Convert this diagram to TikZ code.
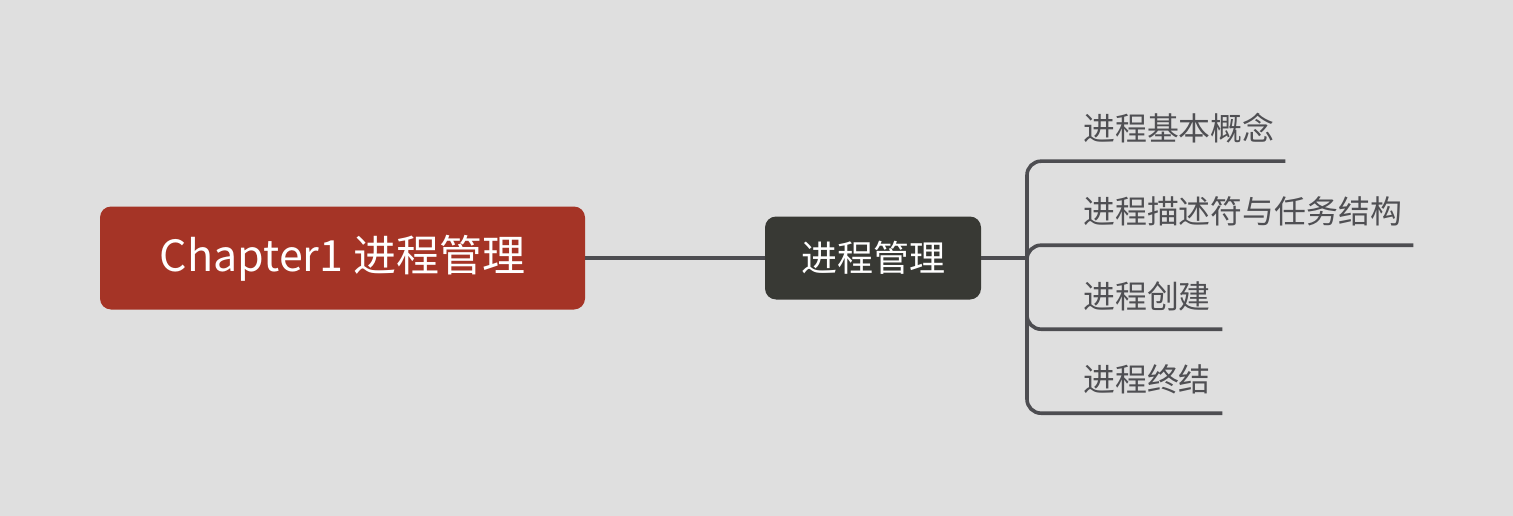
\documentclass[tikz,border=0pt]{standalone}
\usepackage{fontspec}
\setmainfont{Noto Sans CJK SC}
\definecolor{bg}{HTML}{DFDFDF}
\definecolor{rootred}{HTML}{A53426}
\definecolor{maindark}{HTML}{383934}
\definecolor{linegray}{HTML}{4D4D51}
\definecolor{txtgray}{HTML}{4F4F53}
\begin{document}
\begin{tikzpicture}[x=1pt,y=-1pt,
  rootbox/.style={fill=rootred, rounded corners=11pt, text=white, minimum width=485pt, minimum height=103pt, inner sep=0pt, font=\fontsize{43}{48}\selectfont},
  mainbox/.style={fill=maindark, rounded corners=11pt, text=white, minimum width=216pt, minimum height=83pt, inner sep=0pt, font=\fontsize{36}{42}\selectfont},
  childtxt/.style={anchor=west, inner sep=0pt, align=left, text=txtgray, font=\fontsize{31.9}{36}\selectfont},
  conn/.style={draw=linegray, line width=3.6pt},
  branch/.style={conn, rounded corners=14pt}
]
\fill[bg] (0,0) rectangle (1513,516);
\useasboundingbox (0,0) rectangle (1513,516);

\node[rootbox] (root) at (342.5,258) {Chapter1 进程管理};
\node[mainbox] (main) at (873,258) {进程管理};
\coordinate (j) at (1027,258);

\node[childtxt, text width=202pt, minimum height=66pt] (c1) at (1083,128) {进程基本概念};
\node[childtxt, text width=330pt, minimum height=68pt] (c2) at (1083,211) {进程描述符与任务结构};
\node[childtxt, text width=139pt, minimum height=66pt] (c3) at (1083,296) {进程创建};
\node[childtxt, text width=139pt, minimum height=68pt] (c4) at (1083,379) {进程终结};

\draw[conn] (root.east) -- (main.west);
\draw[conn] (main.east) -- (j);
\draw[branch] (j) |- (c1.south east);
\draw[branch] (j) |- (c2.south east);
\draw[branch] (j) |- (c3.south east);
\draw[branch] (j) |- (c4.south east);
\end{tikzpicture}
\end{document}
